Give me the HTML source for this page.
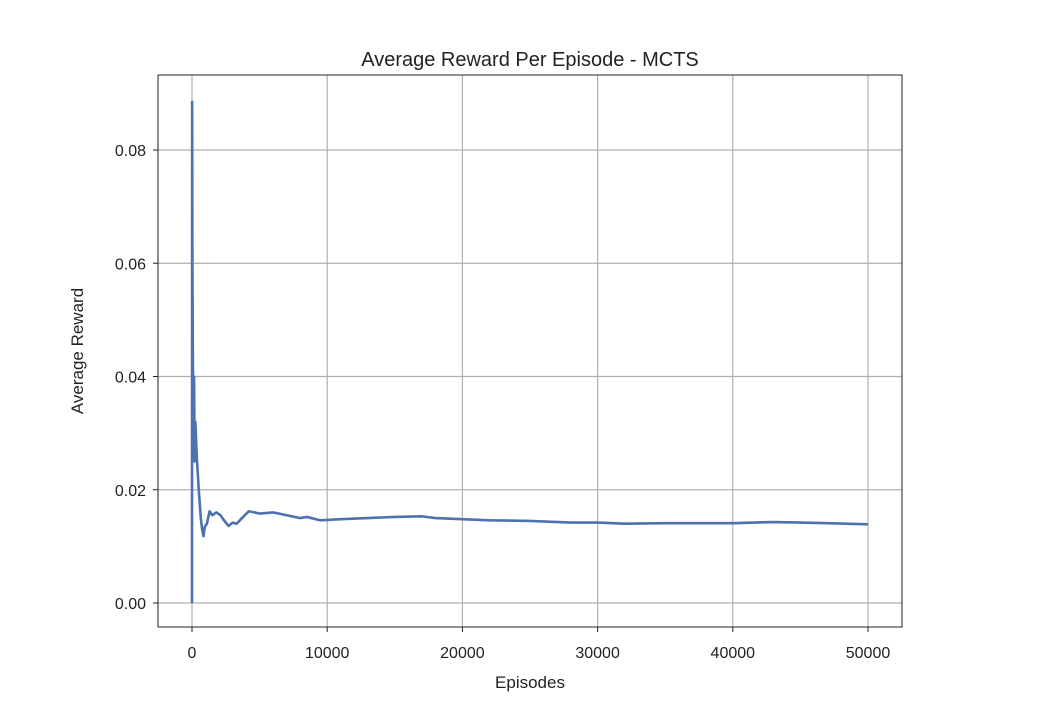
<!DOCTYPE html>
<html><head><meta charset="utf-8"><style>
body{margin:0;background:#fff;}
text{font-family:"Liberation Sans","DejaVu Sans",sans-serif;fill:#222;}
</style></head><body>
<svg id="chart" width="1042" height="722">
<rect width="1042" height="722" fill="#fff"/>
<text x="530" y="66" font-size="20" text-anchor="middle">Average Reward Per Episode - MCTS</text>
<g id="grid"></g><g id="ticks"></g>
<path id="line" fill="none" stroke="#4c72b0" stroke-width="2.6" stroke-linejoin="round"/>
<rect x="158" y="75" width="744" height="552" fill="none" stroke="#222" stroke-width="1"/>
<text x="530" y="688" font-size="17" text-anchor="middle">Episodes</text>
<text transform="translate(83,351) rotate(-90)" font-size="17" text-anchor="middle">Average Reward</text>
</svg>
<script>
const episodes=[0,10,30,60,100,150,200,250,350,500,650,750,850,950,1100,1300,1500,1800,2100,2400,2700,3000,3300,3700,4200,5000,6000,7000,8000,8500,9500,11000,13000,15000,17000,18000,20000,22000,25000,28000,30000,32000,35000,38000,40000,43000,45000,47000,50000];
const rewards=[0,0.0885,0.06,0.045,0.03,0.04,0.025,0.032,0.026,0.02,0.015,0.013,0.0118,0.0135,0.014,0.0162,0.0155,0.016,0.0155,0.0145,0.0136,0.0142,0.014,0.015,0.0162,0.0158,0.016,0.0155,0.015,0.0152,0.0146,0.0148,0.015,0.0152,0.0153,0.015,0.0148,0.0146,0.0145,0.0142,0.0142,0.014,0.0141,0.0141,0.0141,0.0143,0.0142,0.0141,0.0139];
const xTicks=[0,10000,20000,30000,40000,50000];
const yTicks=[0,0.02,0.04,0.06,0.08];
const yLabels=["0.00","0.02","0.04","0.06","0.08"];
const xs=v=>192+v*(868-192)/50000;
const ys=v=>603-v*(603-150)/0.08;
const ns="http://www.w3.org/2000/svg";
const grid=document.getElementById('grid'),ticks=document.getElementById('ticks');
function mk(tag,attrs,parent){const e=document.createElementNS(ns,tag);for(const k in attrs)e.setAttribute(k,attrs[k]);parent.appendChild(e);return e;}
xTicks.forEach(t=>{const x=xs(t);
const g=mk('line',{x1:x,x2:x,y1:75,y2:627,stroke:'#b0b0b0','stroke-width':1.2},grid);


mk('line',{x1:x,x2:x,y1:627,y2:632,stroke:'#222'},ticks);
const tx=mk('text',{x:x,y:658,'font-size':16,'text-anchor':'middle'},ticks);tx.textContent=t;

});
yTicks.forEach((t,i)=>{const y=ys(t);
const g=mk('line',{x1:158,x2:902,y1:y,y2:y,stroke:'#b0b0b0','stroke-width':1.2},grid);


mk('line',{x1:153,x2:158,y1:y,y2:y,stroke:'#222'},ticks);
const tx=mk('text',{x:146,y:y+6,'font-size':16,'text-anchor':'end'},ticks);tx.textContent=yLabels[i];

});
document.getElementById('line').setAttribute('d',episodes.map((e,i)=>(i?'L':'M')+xs(e).toFixed(2)+','+ys(rewards[i]).toFixed(2)).join(''));
</script>
</body></html>
